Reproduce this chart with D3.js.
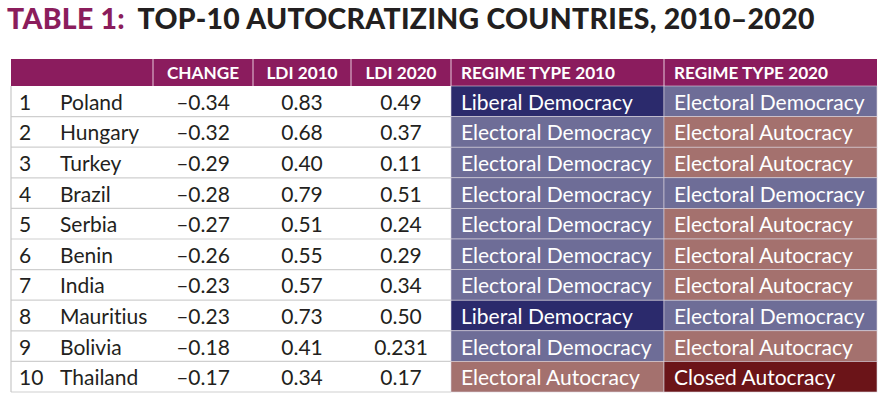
<!DOCTYPE html>
<html>
<head>
<meta charset="utf-8">
<script src="https://cdn.jsdelivr.net/npm/d3@7"></script>
<style>
  html, body { margin: 0; padding: 0; background: #fff; }
  svg { display: block; }
  text { font-variant-ligatures: none; font-feature-settings: "liga" 0; }
</style>
</head>
<body>
<svg id="chart" width="894" height="413"></svg>
<script>
// ---- data ----
const ranks = [1, 2, 3, 4, 5, 6, 7, 8, 9, 10];
const countries = ["Poland", "Hungary", "Turkey", "Brazil", "Serbia", "Benin", "India", "Mauritius", "Bolivia", "Thailand"];
const changeValues = [-0.34, -0.32, -0.29, -0.28, -0.27, -0.26, -0.23, -0.23, -0.18, -0.17];
const ldi2010 = [0.83, 0.68, 0.40, 0.79, 0.51, 0.55, 0.57, 0.73, 0.41, 0.34];
const ldi2020 = [0.49, 0.37, 0.11, 0.51, 0.24, 0.29, 0.34, 0.50, 0.231, 0.17];
const regime2010 = ["Liberal Democracy", "Electoral Democracy", "Electoral Democracy", "Electoral Democracy", "Electoral Democracy", "Electoral Democracy", "Electoral Democracy", "Liberal Democracy", "Electoral Democracy", "Electoral Autocracy"];
const regime2020 = ["Electoral Democracy", "Electoral Autocracy", "Electoral Autocracy", "Electoral Democracy", "Electoral Autocracy", "Electoral Autocracy", "Electoral Autocracy", "Electoral Democracy", "Electoral Autocracy", "Closed Autocracy"];
const headers = ["", "CHANGE", "LDI 2010", "LDI 2020", "REGIME TYPE 2010", "REGIME TYPE 2020"];
const regimeTypes = ["Liberal Democracy", "Electoral Democracy", "Electoral Autocracy", "Closed Autocracy"];
const regimeColors = ["#2b2a6c", "#6e6d97", "#a4716e", "#6b1418"];
const titleLead = "TABLE 1:";
const titleRest = "TOP-10 AUTOCRATIZING COUNTRIES, 2010\u20132020";

// ---- layout ----
const svg = d3.select("#chart");
const FONT = "Lato, 'Open Sans', sans-serif";
const colEdges = [11, 153, 253, 351, 451, 664, 877];
const col = d3.scaleOrdinal().domain(d3.range(6)).range(colEdges.slice(0, 6));
const colW = i => colEdges[i + 1] - colEdges[i];
const headerTop = 59, headerBottom = 86, tableBottom = 392;
const y = d3.scaleBand().domain(d3.range(ranks.length)).range([headerBottom, tableBottom]);
const regimeColor = d3.scaleOrdinal().domain(regimeTypes).range(regimeColors);

const fmt = v => {
  const s = Math.abs(Math.round(v * 100) - v * 100) < 1e-9 ? d3.format(".2f")(v) : d3.format(".3f")(v);
  return s.replace("-", "\u2013").replace("\u2212", "\u2013");
};

// ---- title ----
const title = svg.append("text")
  .attr("x", 7).attr("y", 29)
  .attr("font-family", FONT).attr("font-weight", 900)
  .attr("font-size", 28.4).attr("letter-spacing", 0.3);
title.append("tspan").attr("fill", "#8b1d5c").text(titleLead);
title.append("tspan").attr("fill", "#231f20").attr("dx", 14).text(titleRest);

// ---- header ----
svg.append("rect")
  .attr("x", colEdges[0]).attr("y", headerTop)
  .attr("width", colEdges[6] - colEdges[0]).attr("height", headerBottom - headerTop)
  .attr("fill", "#8b1c5e");

svg.selectAll("line.hsep").data(d3.range(1, 6)).join("line")
  .attr("class", "hsep")
  .attr("x1", i => col(i)).attr("x2", i => col(i))
  .attr("y1", headerTop).attr("y2", headerBottom)
  .attr("stroke", "#e8c9da").attr("stroke-width", 1);

svg.selectAll("text.head").data(headers).join("text")
  .attr("class", "head")
  .attr("x", (d, i) => i >= 4 ? col(i) + 10 : col(i) + colW(i) / 2)
  .attr("y", headerBottom - 7.5)
  .attr("text-anchor", (d, i) => i >= 4 ? "start" : "middle")
  .attr("font-family", FONT).attr("font-weight", 700)
  .attr("font-size", 17.2).attr("fill", "#fff")
  .text(d => d);

// ---- body ----
const rows = d3.range(ranks.length);

// row separators
svg.selectAll("line.rsep").data(rows).join("line")
  .attr("class", "rsep")
  .attr("x1", colEdges[0]).attr("x2", colEdges[4])
  .attr("y1", i => y(i) + y.bandwidth()).attr("y2", i => y(i) + y.bandwidth())
  .attr("stroke", "#cfcfcf").attr("stroke-width", 1.2);

// left border
svg.append("line")
  .attr("x1", colEdges[0]).attr("x2", colEdges[0])
  .attr("y1", headerBottom).attr("y2", tableBottom)
  .attr("stroke", "#c8c8c8").attr("stroke-width", 1.2);

// regime cells
const cells = [];
rows.forEach(i => {
  cells.push({ row: i, c: 4, v: regime2010[i] });
  cells.push({ row: i, c: 5, v: regime2020[i] });
});
svg.selectAll("rect.cell").data(cells).join("rect")
  .attr("class", "cell")
  .attr("x", d => col(d.c)).attr("y", d => y(d.row))
  .attr("width", d => colW(d.c)).attr("height", y.bandwidth())
  .attr("fill", d => regimeColor(d.v))
  .attr("stroke", "#d9d3dc").attr("stroke-width", 0.6);

svg.selectAll("text.cellt").data(cells).join("text")
  .attr("class", "cellt")
  .attr("x", d => col(d.c) + 10)
  .attr("y", d => y(d.row) + y.bandwidth() / 2 + 8.5)
  .attr("font-family", FONT).attr("font-size", 21).attr("fill", "#fff")
  .text(d => d.v);

// plain text columns
const bodyText = (cls, data, xf, anchor) =>
  svg.selectAll("text." + cls).data(data).join("text")
    .attr("class", cls)
    .attr("x", xf)
    .attr("y", (d, i) => y(i) + y.bandwidth() / 2 + 8.5)
    .attr("text-anchor", anchor)
    .attr("font-family", FONT).attr("font-size", 21).attr("fill", "#231f20")
    .text(d => d);

bodyText("rank", ranks, 19, "start");
bodyText("country", countries, 60, "start");
bodyText("chg", changeValues.map(fmt), col(1) + colW(1) / 2, "middle");
bodyText("l10", ldi2010.map(fmt), col(2) + colW(2) / 2, "middle");
bodyText("l20", ldi2020.map(fmt), col(3) + colW(3) / 2, "middle");
</script>
</body>
</html>
